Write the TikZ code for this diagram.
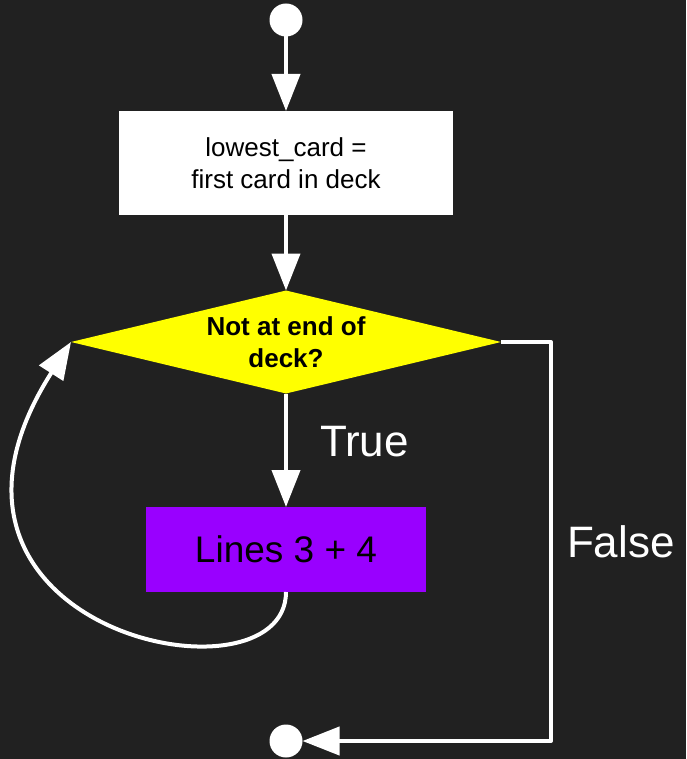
\documentclass[tikz,border=0pt]{standalone}
\usepackage{fontspec}
\setmainfont{Liberation Sans}
\usetikzlibrary{shapes.geometric,arrows.meta}
\definecolor{bg}{HTML}{212121}
\definecolor{condyellow}{HTML}{FFFF00}
\definecolor{stepviolet}{HTML}{9900FF}

\begin{document}
\begin{tikzpicture}[x=1pt,y=-1pt]
	\tikzstyle{flow}=[line width=4pt, white, line join=round, -{Triangle[length=37pt,width=28pt]}]
	\tikzstyle{terminal}=[circle, fill=white, minimum size=33pt, inner sep=0pt, outer sep=0pt]
	\tikzstyle{body}=[font=\fontsize{26}{32}\selectfont, align=center, inner sep=0pt, outer sep=0pt]
	\tikzstyle{tag}=[font=\fontsize{44}{50}\selectfont, text=white, inner sep=0pt]
	\fill[bg] (0,0) rectangle (686,759);
	\useasboundingbox (0,0) rectangle (686,759);
	\node[terminal] (start) at (286,20) {};
	\node[body, fill=white, minimum width=334pt, minimum height=104pt] (init) at (286,163) {lowest\_card =\\first card in deck};
	\node[body, diamond, aspect=4.17, fill=condyellow, minimum width=430pt, minimum height=103pt, font=\fontsize{26}{32}\selectfont\bfseries] (cond) at (286,342) {Not at end of\\deck?};
	\node[body, fill=stepviolet, minimum width=280pt, minimum height=85pt, font=\fontsize{37}{44}\selectfont] (lines) at (286,549.5) {Lines 3 + 4};
	\node[terminal] (stop) at (286,741) {};
	\draw[flow] (start) -- (init);
	\draw[flow] (init) -- (cond);
	\draw[flow] (cond.south) -- node[tag, pos=0.42, right=32pt] {True} (lines.north);
	\draw[flow] (lines.south) .. controls +(0,120) and +(-185,290) .. (cond.west);
	\draw[flow] (cond.east) -- ++(50,0) |- node[tag, pos=0.25, right=14pt] {False} (stop);
\end{tikzpicture}
\end{document}
